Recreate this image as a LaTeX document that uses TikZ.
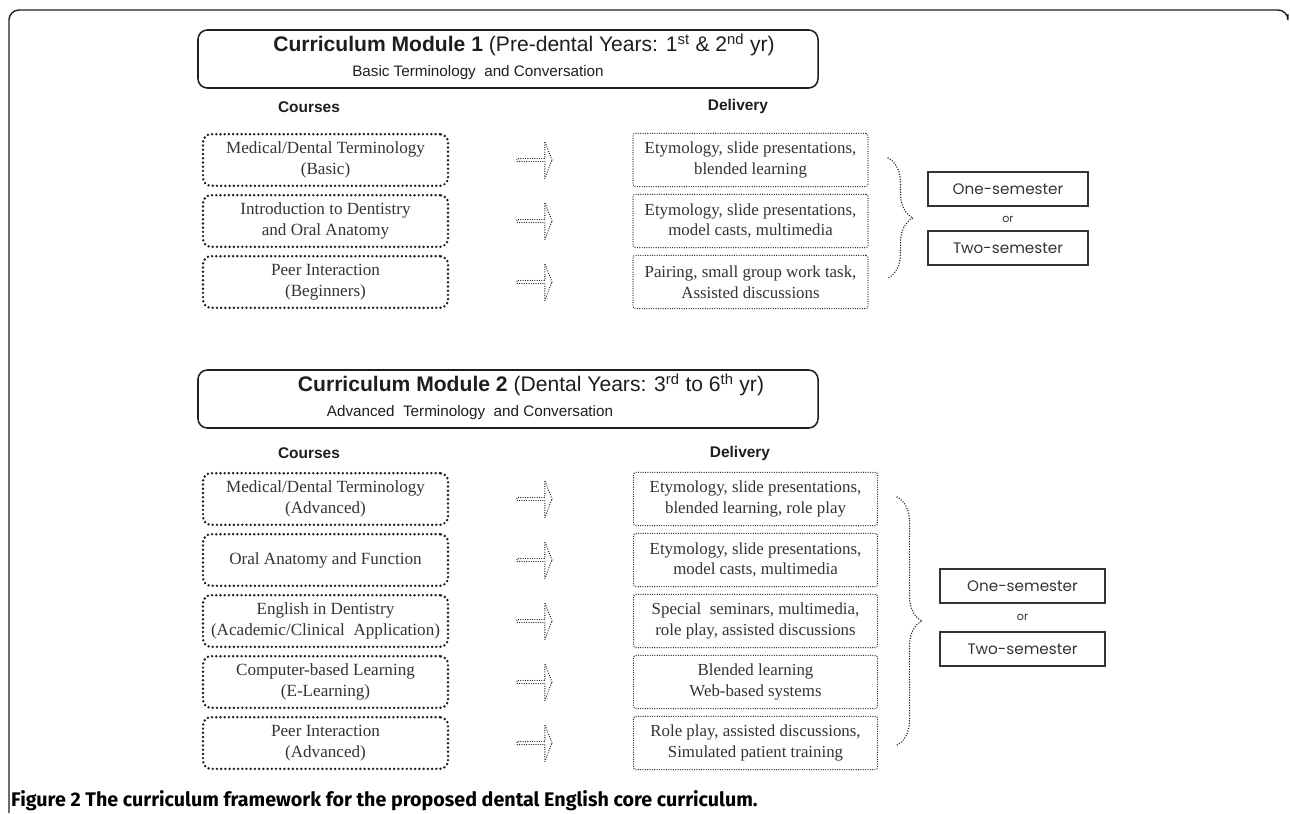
\documentclass[tikz,border=0pt]{standalone}
\usepackage{fontspec}
\setmainfont{Liberation Serif}
\newfontfamily\arialfont{Liberation Sans}
\newfontfamily\gothfont{Poppins}
\newfontfamily\capfont{Fira Sans}
\usetikzlibrary{positioning,shapes.arrows,decorations.pathreplacing}
\definecolor{ink}{HTML}{333333}
\definecolor{darkink}{HTML}{1E1E1E}

\begin{document}
\begin{tikzpicture}[x=0.03cm,y=-0.03cm,node distance=1.83cm,
  header/.style={draw=darkink,line width=1.3pt,rounded corners=8pt,minimum width=18.6cm,minimum height=1.74cm},
  title/.style={text=darkink,font=\arialfont\fontsize{18}{21}\selectfont},
  subtitle/.style={text=darkink,font=\arialfont\fontsize{13}{16}\selectfont},
  colhead/.style={text=darkink,font=\arialfont\bfseries\fontsize{13.2}{16}\selectfont},
  course/.style={draw=darkink,rounded corners=7pt,line width=2.3pt,dash pattern=on 0pt off 3.6pt,line cap=round,
    minimum width=7.35cm,minimum height=1.55cm,align=center,text=ink,font=\fontsize{14.6}{17.5}\selectfont},
  delivery/.style={draw=darkink,rounded corners=2pt,line width=1.1pt,dash pattern=on 0pt off 2pt,line cap=round,
    minimum width=7.05cm,minimum height=1.6cm,align=center,text=ink,font=\fontsize{14.4}{17.5}\selectfont},
  blockarrow/.style={single arrow,draw=darkink,line width=1.1pt,dash pattern=on 0pt off 2pt,line cap=round,
    inner sep=0pt,minimum height=1.05cm,minimum width=1.11cm,single arrow head extend=0.225cm,single arrow tip angle=138},
  brc/.style={draw=darkink,line width=1.3pt,dash pattern=on 0pt off 2.2pt,line cap=round,decorate,decoration={brace,amplitude=0.75cm}},
  sem/.style={draw=ink,line width=0.9pt,minimum width=4.8cm,minimum height=1.02cm,text=ink,font=\gothfont\fontsize{13}{15}\selectfont},
  orlabel/.style={text=ink,font=\gothfont\fontsize{9.5}{11}\selectfont},
  frame/.style={draw=darkink,line width=1.2pt,rounded corners=0.3cm}]

  \useasboundingbox (0,0) rectangle (1290,813);
  \draw[frame] (9,813) |- (1288,10) -- (1288,14);

  % module 1
  \node[header] (h1) at (508,59) {};
  \node[title] (t1) at (524,45) {\textbf{Curriculum Module 1} (Pre-dental Years: 1\textsuperscript{st} \& 2\textsuperscript{nd} yr)};
  \node[subtitle] (s1) at (478,73) {Basic Terminology~ and Conversation};
  \node[colhead] (k1) at (309,107) {Courses};
  \node[colhead] (l1) at (738,107) {Delivery};

  \node[course] (c1) at (325.5,160) {Medical/Dental Terminology\\(Basic)};
  \node[course] (c2) [below of=c1] {Introduction to Dentistry\\and Oral Anatomy};
  \node[course] (c3) [below of=c2] {Peer Interaction\\(Beginners)};

  \node[blockarrow] (a1) [right of=c1, node distance=6.26cm] {};
  \node[blockarrow] (a2) [right of=c2, node distance=6.26cm] {};
  \node[blockarrow] (a3) [right of=c3, node distance=6.26cm] {};

  \node[delivery] (d1) [right of=c1, node distance=12.75cm] {Etymology, slide presentations,\\blended learning};
  \node[delivery] (d2) [right of=c2, node distance=12.75cm] {Etymology, slide presentations,\\model casts, multimedia};
  \node[delivery] (d3) [right of=c3, node distance=12.75cm] {Pairing, small group work task,\\Assisted discussions};

  \coordinate (u1) at (888,158);
  \coordinate (v1) at (888,278);
  \draw[brc] (u1) -- (v1);

  \node[sem] (o1) at (1008,189) {One-semester};
  \node[orlabel] (r1) at (1008,219) {or};
  \node[sem] (w1) at (1008,248) {Two-semester};

  % module 2
  \node[header] (h2) at (508,399) {};
  \node[title] (t2) at (531,385) {\textbf{Curriculum Module 2} (Dental Years: 3\textsuperscript{rd} to 6\textsuperscript{th} yr)};
  \node[subtitle] (s2) at (470,413) {Advanced~ Terminology~ and Conversation};
  \node[colhead] (k2) at (309,453) {Courses};
  \node[colhead] (l2) at (740,453) {Delivery};

  \node[course] (e1) at (325.5,499) {Medical/Dental Terminology\\(Advanced)};
  \node[course] (e2) [below of=e1] {Oral Anatomy and Function};
  \node[course] (e3) [below of=e2] {English in Dentistry\\(Academic/Clinical~ Application)};
  \node[course] (e4) [below of=e3] {Computer-based Learning\\(E-Learning)};
  \node[course] (e5) [below of=e4] {Peer Interaction\\(Advanced)};

  \node[blockarrow] (b1) [right of=e1, node distance=6.26cm] {};
  \node[blockarrow] (b2) [right of=e2, node distance=6.26cm] {};
  \node[blockarrow] (b3) [right of=e3, node distance=6.26cm] {};
  \node[blockarrow] (b4) [right of=e4, node distance=6.26cm] {};
  \node[blockarrow] (b5) [right of=e5, node distance=6.26cm] {};

  \node[delivery, minimum width=7.32cm] (f1) [right of=e1, node distance=12.9cm] {Etymology, slide presentations,\\blended learning, role play};
  \node[delivery, minimum width=7.32cm] (f2) [right of=e2, node distance=12.9cm] {Etymology, slide presentations,\\model casts, multimedia};
  \node[delivery, minimum width=7.32cm] (f3) [right of=e3, node distance=12.9cm] {Special~ seminars, multimedia,\\role play, assisted discussions};
  \node[delivery, minimum width=7.32cm] (f4) [right of=e4, node distance=12.9cm] {Blended learning\\Web-based systems};
  \node[delivery, minimum width=7.32cm] (f5) [right of=e5, node distance=12.9cm] {Role play, assisted discussions,\\Simulated patient training};

  \coordinate (u2) at (897,497);
  \coordinate (v2) at (897,745);
  \draw[brc] (u2) -- (v2);

  \node[sem, minimum width=4.95cm] (o2) at (1022.5,586) {One-semester};
  \node[orlabel] (r2) at (1022.5,617) {or};
  \node[sem, minimum width=4.95cm] (w2) at (1022.5,649) {Two-semester};

  % caption
  \node[anchor=base west,inner sep=0pt,font=\capfont\bfseries\fontsize{16.8}{19}\selectfont] (cap) at (11,806)
    {Figure 2 The curriculum framework for the proposed dental English core curriculum.};
\end{tikzpicture}
\end{document}
